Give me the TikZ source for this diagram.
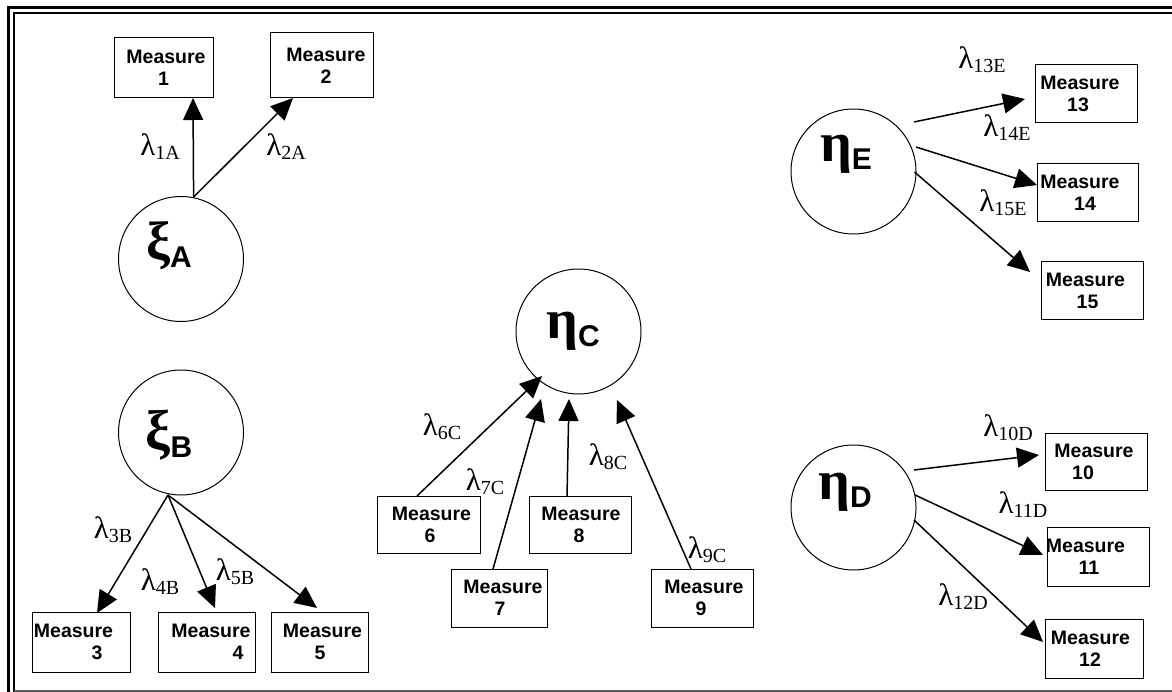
\documentclass[tikz,border=0pt]{standalone}
\usepackage{fontspec}
\setmainfont{Liberation Serif}
\newfontfamily\arialf{Liberation Sans}
\usetikzlibrary{arrows.meta,calc}
\newcommand{\mylam}[1]{{\fontsize{31}{31}\selectfont λ}\raisebox{-4pt}{\fontsize{20}{20}\selectfont #1}}
\newcommand{\mymeas}[3]{\makebox[0pt]{\hspace*{#1}Measure}\\\makebox[0pt]{\hspace*{#2}#3}}
\newcommand{\mylat}[5]{\smash{\makebox[0pt]{\hspace*{#1}\raisebox{#2}{{\bfseries\fontsize{#3}{#3}\selectfont #4}\raisebox{-8pt}{\arialf\bfseries\fontsize{30}{30}\selectfont #5}}}}}
\tikzset{
  meas/.style={draw, line width=1pt, inner sep=0pt, font=\arialf\bfseries\fontsize{19.5}{22}\selectfont, align=center},
  latent/.style={draw, circle, line width=1pt, minimum size=125pt, inner sep=0pt},
  arr/.style={-{Triangle[length=22pt,width=20pt]}, line width=1.5pt},
  lab/.style={inner sep=0pt},
  frameouter/.style={line width=3pt},
  frameinner/.style={line width=1.5pt},
}
\begin{document}
\begin{tikzpicture}[x=1pt,y=-1pt]
\useasboundingbox (0,0) rectangle (1172,692);
% frame
\draw[frameouter] (8.5,692) -- (8.5,7.5) -- (1172,7.5);
\draw[frameinner] (14,692) -- (14,13) -- (1172,13);
\draw[frameinner, black!65] (14,691) -- (1172,691);

% latent variables
\node[latent] (xiA) at (181,259) {\mylat{-24pt}{-1pt}{54}{ξ}{A}};
\node[latent] (xiB) at (181,432.5) {\mylat{-24pt}{-16.5pt}{56}{ξ}{B}};
\node[latent] (etaC) at (578.5,331.5) {\mylat{-11pt}{-7.5pt}{56}{η}{C}};
\node[latent] (etaE) at (853.5,171.5) {\mylat{-15pt}{9.5pt}{56}{η}{E}};
\node[latent] (etaD) at (853.5,507.5) {\mylat{-17pt}{8.5pt}{56}{η}{D}};

% measures
\node[meas, minimum width=99pt, minimum height=60pt] (m1) at (163.5,68) {\mymeas{5pt}{0pt}{1}};
\node[meas, minimum width=103pt, minimum height=65pt] (m2) at (321.5,65.5) {\mymeas{9pt}{9pt}{2}};
\node[meas, minimum width=98pt, minimum height=60pt] (m3) at (81,642) {\mymeas{-15pt}{32pt}{3}};
\node[meas, minimum width=97pt, minimum height=60pt] (m4) at (206.5,642) {\mymeas{9pt}{63pt}{4}};
\node[meas, minimum width=97pt, minimum height=60pt] (m5) at (319.5,642) {\mymeas{6pt}{1pt}{5}};
\node[meas, minimum width=103pt, minimum height=57pt] (m6) at (428.5,524.5) {\mymeas{6pt}{3pt}{6}};
\node[meas, minimum width=96pt, minimum height=58pt] (m7) at (499,598) {\mymeas{8pt}{2pt}{7}};
\node[meas, minimum width=102pt, minimum height=57pt] (m8) at (580,524.5) {\mymeas{2pt}{-2pt}{8}};
\node[meas, minimum width=102pt, minimum height=58pt] (m9) at (702,598) {\mymeas{4pt}{-2pt}{9}};
\node[meas, minimum width=102pt, minimum height=57pt] (m10) at (1096,461.5) {\mymeas{-4pt}{-26pt}{10}};
\node[meas, minimum width=102pt, minimum height=59pt] (m11) at (1098,556.5) {\mymeas{-25pt}{-18pt}{11}};
\node[meas, minimum width=98pt, minimum height=59pt] (m12) at (1094,648.5) {\mymeas{-7pt}{-8pt}{12}};
\node[meas, minimum width=102pt, minimum height=58pt] (m13) at (1086,94) {\mymeas{-12pt}{-16pt}{13}};
\node[meas, minimum width=101pt, minimum height=58pt] (m14) at (1087.5,193) {\mymeas{-15pt}{-5pt}{14}};
\node[meas, minimum width=102pt, minimum height=58pt] (m15) at (1092,291) {\mymeas{-13pt}{-9pt}{15}};

% connectors
\draw[arr] ($(xiA)+(12.6,-62)$) -- ($(m1)+(29.5,30)$);
\draw[arr] ($(xiA)+(12.6,-62)$) -- ($(m2)+(-28.5,32.5)$);
\draw[arr] ($(xiB)+(-13,62.5)$) -- ($(m3)+(16,-29)$);
\draw[arr] ($(xiB)+(-13,62.5)$) -- ($(m4)+(8.5,-34)$);
\draw[arr] ($(xiB)+(-13,62.5)$) -- ($(m5)+(-2.5,-34)$);
\draw[arr] ($(m6)+(-11.5,-28.5)$) -- ($(etaC)+(-36.5,44.5)$);
\draw[arr] ($(m7)+(-6,-29)$) -- ($(etaC)+(-37.5,67.5)$);
\draw[arr] ($(m8)+(-13,-28.5)$) -- ($(etaC)+(-9.5,67.5)$);
\draw[arr] ($(m9)+(-11,-29)$) -- ($(etaC)+(38.5,68.5)$);
\draw[arr] ($(etaE)+(60.5,-49.5)$) -- ($(m13)+(-61,5)$);
\draw[arr] ($(etaE)+(62.5,-24.5)$) -- ($(m14)+(-50.5,-8)$);
\draw[arr] ($(etaE)+(61,0.5)$) -- ($(m15)+(-62,-19)$);
\draw[arr] ($(etaD)+(60.5,-37.5)$) -- ($(m10)+(-57,-6.5)$);
\draw[arr] ($(etaD)+(61.5,-12.5)$) -- ($(m11)+(-55,-1.5)$);
\draw[arr] ($(etaD)+(60.5,12.5)$) -- ($(m12)+(-51,-6.5)$);

% loading labels
\node[lab] (l1A) at (160,147) {\mylam{1A}};
\node[lab] (l2A) at (286,147) {\mylam{2A}};
\node[lab] (l3B) at (113,530) {\mylam{3B}};
\node[lab] (l4B) at (160,582) {\mylam{4B}};
\node[lab] (l5B) at (235,572) {\mylam{5B}};
\node[lab] (l6C) at (442,427) {\mylam{6C}};
\node[lab] (l7C) at (485,482) {\mylam{7C}};
\node[lab] (l8C) at (608,457) {\mylam{8C}};
\node[lab] (l9C) at (707,550) {\mylam{9C}};
\node[lab] (l13E) at (982,60) {\mylam{13E}};
\node[lab] (l14E) at (1007,128) {\mylam{14E}};
\node[lab] (l15E) at (1003,203) {\mylam{15E}};
\node[lab] (l10D) at (1008,428) {\mylam{10D}};
\node[lab] (l11D) at (1023,505) {\mylam{11D}};
\node[lab] (l12D) at (963,597) {\mylam{12D}};
\end{tikzpicture}
\end{document}
